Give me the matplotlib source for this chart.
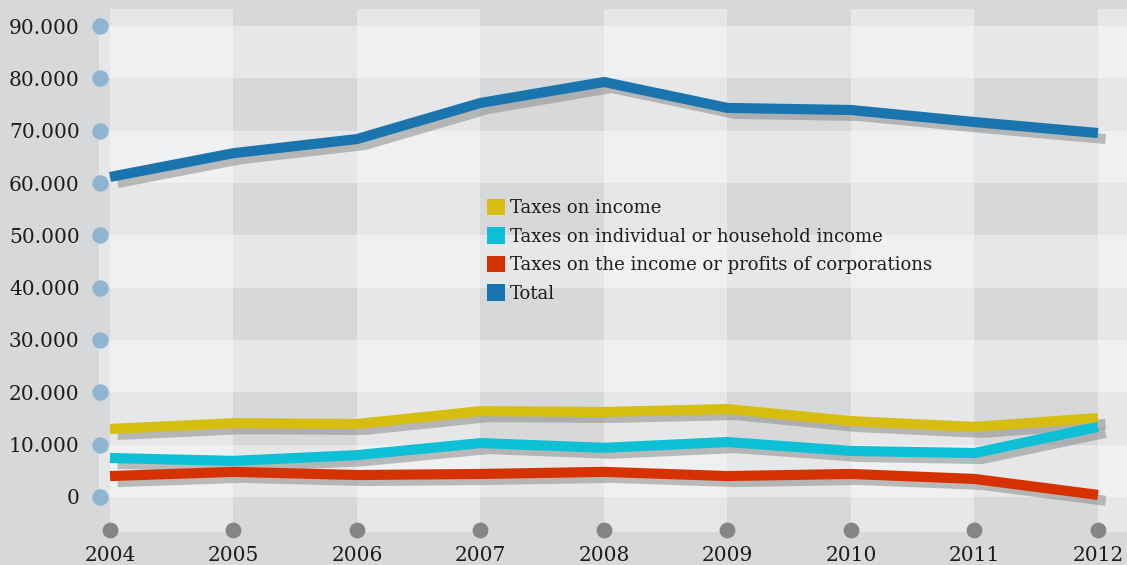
import numpy as np
import matplotlib
matplotlib.use("Agg")
from matplotlib import pyplot as plt
from matplotlib import patheffects as pe
from matplotlib.patches import Patch
import matplotlib.transforms as mtransforms

years = [2004, 2005, 2006, 2007, 2008, 2009, 2010, 2011, 2012]

taxes_income = [13000, 14100, 13950, 16400, 16250, 16800, 14500, 13400, 15100]
taxes_individual = [7450, 6900, 8000, 10300, 9400, 10500, 8800, 8400, 13400]
taxes_corporations = [4000, 4800, 4200, 4400, 4800, 4000, 4400, 3450, 400]
total = [61150, 65700, 68400, 75300, 79300, 74350, 73950, 71650, 69550]

labels = ['Taxes on income',
          'Taxes on individual or household income',
          'Taxes on the income or profits of corporations',
          'Total']
colors = ['#d6bd10', '#0dc0d6', '#d63200', '#1a74ad']

yticks = [0, 10000, 20000, 30000, 40000, 50000, 60000, 70000, 80000, 90000]
ytick_labels = ['0', '10.000', '20.000', '30.000', '40.000',
                '50.000', '60.000', '70.000', '80.000', '90.000']

plt.rcParams['font.family'] = ['DejaVu Serif']
bg = '#d7d8da'
txt = '#1c1c1c'

fig = plt.figure(figsize=(11.27, 5.65), dpi=100, facecolor=bg)
ax = fig.add_axes([99/1127, 33/565, 1028/1127, 523/565])
ax.set_facecolor(bg)

xmin, xmax = 2003.911, 2012.235
ax.set_xlim(xmin, xmax)
ax.set_ylim(-6690, 93250)

# checkerboard background: light rows and light columns
for lo in range(0, 90000, 20000):
    ax.axhspan(lo, lo + 10000, color='white', alpha=0.4, lw=0, zorder=0)
for y0 in years[::2]:
    ax.axvspan(y0, min(y0 + 1, xmax), color='white', alpha=0.4, lw=0, zorder=0)

shadow = [pe.SimpleLineShadow(offset=(5.5, -4.3), shadow_color='#8c8c8c', alpha=0.55),
          pe.Normal()]
for vals, c in zip([taxes_income, taxes_individual, taxes_corporations, total], colors):
    ax.plot(years, vals, color=c, lw=7.3, solid_capstyle='butt',
            solid_joinstyle='miter', path_effects=shadow, zorder=3)

# axis dots
ty = mtransforms.blended_transform_factory(ax.transAxes, ax.transData)
ax.scatter(np.full(len(yticks), 0.001), yticks, s=140, color='#86b2cf',
           alpha=0.9, lw=0, transform=ty, clip_on=False, zorder=5)
tx = mtransforms.blended_transform_factory(ax.transData, ax.transAxes)
ax.scatter(years, np.full(len(years), 0.004), s=130, color='#858585',
           lw=0, transform=tx, clip_on=False, zorder=5)

ax.set_yticks(yticks)
ax.set_yticklabels(ytick_labels, fontsize=14.5, color=txt)
ax.set_xticks(years)
ax.set_xticklabels([str(y) for y in years], fontsize=14.5, color=txt)
ax.tick_params(axis='y', length=0, pad=14)
ax.tick_params(axis='x', length=0, pad=10)
for s in ax.spines.values():
    s.set_visible(False)

handles = [Patch(facecolor=c, edgecolor='none') for c in colors]
ax.legend(handles, labels, loc='upper left', bbox_to_anchor=(0.3774, 0.6375),
          frameon=False, fontsize=13, handlelength=1.0, handleheight=1.05,
          handletextpad=0.25, labelspacing=0.55, borderpad=0, borderaxespad=0,
          labelcolor=txt)

plt.savefig('out.png', dpi=100, facecolor=bg)
